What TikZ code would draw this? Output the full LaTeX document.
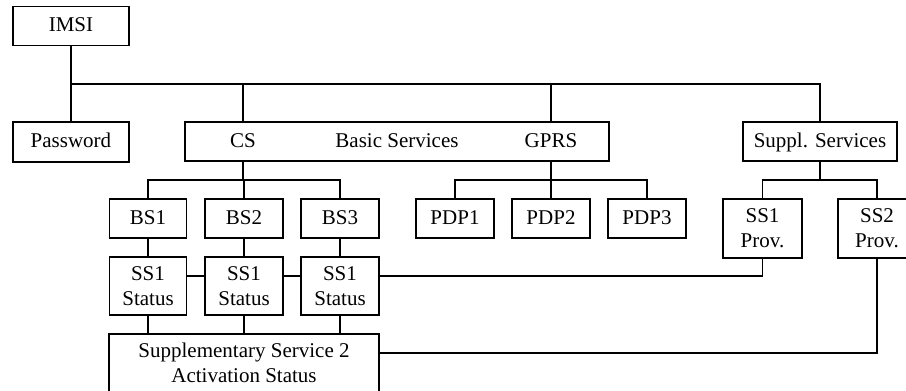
\documentclass[tikz,border=0pt]{standalone}
\usepackage{fontspec}
\setmainfont{Liberation Serif}
\begin{document}
\begin{tikzpicture}[x=1pt,y=-1pt,
  box/.style={draw,line width=1.5pt,inner sep=0pt,align=center,font=\fontsize{21}{25}\selectfont},
  one/.style={text height=14pt,text depth=3pt},
  lbl/.style={inner sep=0pt,text height=14pt,text depth=3pt,font=\fontsize{21}{25}\selectfont},
  conn/.style={line width=1.3pt}]
\useasboundingbox (0,0) rectangle (906,391);
\clip (0,0) rectangle (906,391);
% top
\node[box,one,minimum width=116,minimum height=39] (imsi) at (71,26) {IMSI};
\node[box,one,minimum width=116,minimum height=40] (pw) at (71,142) {Password};
\node[box,minimum width=424,minimum height=39] (big) at (397,141.5) {};
\node[lbl] (cs) at (243,141.5) {CS};
\node[lbl] (bas) at (397,141.5) {Basic Services};
\node[lbl] (gprs) at (551,141.5) {GPRS};
\node[box,one,minimum width=154,minimum height=39] (supp) at (820,141.5) {Suppl. Services};
% BS
\node[box,one,minimum width=77,minimum height=39] (bs1) at (148,218.5) {BS1};
\node[box,one,minimum width=78,minimum height=39] (bs2) at (244,218.5) {BS2};
\node[box,one,minimum width=78,minimum height=39] (bs3) at (340,218.5) {BS3};
\node[box,minimum width=77,minimum height=58] (st1) at (148,286) {SS1\\Status};
\node[box,minimum width=78,minimum height=58] (st2) at (244,286) {SS1\\Status};
\node[box,minimum width=78,minimum height=58] (st3) at (340,286) {SS1\\Status};
\node[box,minimum width=270,minimum height=58] (act) at (244,363) {Supplementary Service 2\\Activation Status};
% PDP
\node[box,one,minimum width=78,minimum height=39] (pdp1) at (455,218.5) {PDP1};
\node[box,one,minimum width=78,minimum height=39] (pdp2) at (551,218.5) {PDP2};
\node[box,one,minimum width=78,minimum height=39] (pdp3) at (647,218.5) {PDP3};
% Prov
\node[box,minimum width=79,minimum height=59] (ss1p) at (762.5,228.5) {SS1\\Prov.};
\node[box,minimum width=78,minimum height=59] (ss2p) at (877,228.5) {SS2\\Prov.};
% coordinates
\coordinate (b1) at (71,84);
\coordinate (b2) at (0,180);
\coordinate (l1) at (0,276);
\coordinate (l2) at (0,353);
% connectors
\draw[conn] (imsi.south) -- (pw.north);
\draw[conn] (b1) -| (supp.north);
\draw[conn] (b1 -| cs) -- (cs |- big.north);
\draw[conn] (b1 -| gprs) -- (gprs |- big.north);
\draw[conn] (cs |- big.south) -- (cs |- b2);
\draw[conn] (bs1.north) |- (bs3.north |- b2) -- (bs3.north);
\draw[conn] (bs2.north) -- (bs2.north |- b2);
\draw[conn] (gprs |- big.south) -- (pdp2.north);
\draw[conn] (pdp1.north) |- (pdp3.north |- b2) -- (pdp3.north);
\draw[conn] (supp.south) -- (supp.south |- b2);
\draw[conn] (ss1p.north) |- (ss2p.north |- b2) -- (ss2p.north);
\foreach \i in {1,2,3}{
  \draw[conn] (bs\i.south) -- (st\i.north);
  \draw[conn] (st\i.south) -- (st\i.south |- act.north);
}
\draw[conn] (st1.east |- l1) -- (st2.west |- l1);
\draw[conn] (st2.east |- l1) -- (st3.west |- l1);
\draw[conn] (st3.east |- l1) -| (ss1p.south);
\draw[conn] (act.east |- l2) -| (ss2p.south);
\end{tikzpicture}
\end{document}
